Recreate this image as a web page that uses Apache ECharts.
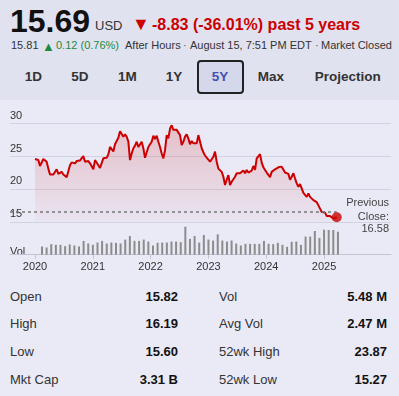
<!DOCTYPE html>
<html>
<head>
<meta charset="utf-8">
<script src="https://cdn.jsdelivr.net/npm/echarts@6/dist/echarts.min.js"></script>
<style>
  html, body { margin:0; padding:0; width:399px; height:396px; overflow:hidden; background:#eaeaf6; font-family:"Liberation Sans", Arial, sans-serif; }
  #hdr { position:absolute; left:0; top:0; width:399px; height:100px; background:#e1e2f0; }
  .t { position:absolute; white-space:nowrap; line-height:1; }
  .btn { position:absolute; width:60px; text-align:center; font-weight:bold; font-size:13.5px; line-height:20px; color:#333; top:66.5px; }
  #box5y { position:absolute; left:196.5px; top:60px; width:47px; height:33.5px; box-sizing:border-box; border:2px solid #222; border-radius:4px; background:#d4d8ea; }
  .lbl { position:absolute; font-size:13px; line-height:20px; color:#333; white-space:nowrap; }
  .val { position:absolute; font-size:13px; line-height:20px; color:#111; font-weight:bold; text-align:right; width:90px; white-space:nowrap; }
  #chart { position:absolute; left:0; top:100px; width:399px; height:180px; }
</style>
</head>
<body>
<div id="hdr"></div>
<div class="t" style="left:10px; top:4.6px; font-size:32px; font-weight:bold; color:#111;">15.69</div>
<div class="t" style="left:95px; top:18.5px; font-size:13px; color:#333;">USD</div>
<div class="t" style="left:132px; top:15px; font-size:18px; color:#cc0000;">▼</div>
<div class="t" style="left:152px; top:16.5px; font-size:16px; font-weight:bold; color:#cc0000;">-8.83 (-36.01%) past 5 years</div>

<div class="t" style="left:11px; top:40.2px; font-size:11px; color:#333;">15.81</div>
<div class="t" style="left:42px; top:39.5px; font-size:13px; color:#1e8a3c;">▲</div>
<div class="t" style="left:56px; top:40.2px; font-size:11px; color:#1e8a3c;">0.12 (0.76%)</div>
<div class="t" style="left:125px; top:40.2px; font-size:11px; color:#333;">After Hours</div>
<div class="t" style="left:183px; top:40.2px; font-size:11px; color:#555;">·</div>
<div class="t" style="left:190px; top:40.2px; font-size:11px; color:#333;">August 15, 7:51 PM EDT</div>
<div class="t" style="left:315px; top:40.2px; font-size:11px; color:#555;">·</div>
<div class="t" style="left:321px; top:40.2px; font-size:11px; color:#333;">Market Closed</div>

<div id="box5y"></div>
<div class="btn" style="left:3.5px;">1D</div>
<div class="btn" style="left:50px;">5D</div>
<div class="btn" style="left:97.3px;">1M</div>
<div class="btn" style="left:144px;">1Y</div>
<div class="btn" style="left:190px; color:#4352b0;">5Y</div>
<div class="btn" style="left:240.8px;">Max</div>
<div class="btn" style="left:314.8px;">Projection</div>

<div id="chart"></div>

<div class="lbl" style="left:10px; top:286.8px;">Open</div>
<div class="val" style="left:88px; top:286.8px;">15.82</div>
<div class="lbl" style="left:219px; top:286.8px;">Vol</div>
<div class="val" style="left:297px; top:286.8px;">5.48 M</div>

<div class="lbl" style="left:10px; top:314.4px;">High</div>
<div class="val" style="left:88px; top:314.4px;">16.19</div>
<div class="lbl" style="left:219px; top:314.4px;">Avg Vol</div>
<div class="val" style="left:297px; top:314.4px;">2.47 M</div>

<div class="lbl" style="left:10px; top:342.4px;">Low</div>
<div class="val" style="left:88px; top:342.4px;">15.60</div>
<div class="lbl" style="left:219px; top:342.4px;">52wk High</div>
<div class="val" style="left:297px; top:342.4px;">23.87</div>

<div class="lbl" style="left:10px; top:370.4px;">Mkt Cap</div>
<div class="val" style="left:88px; top:370.4px;">3.31 B</div>
<div class="lbl" style="left:219px; top:370.4px;">52wk Low</div>
<div class="val" style="left:297px; top:370.4px;">15.27</div>

<script>
// ---- data ----
const YEAR_TICKS = [2020, 2021, 2022, 2023, 2024, 2025];
const PRICE_TICKS = [15, 20, 25, 30];
const PREV_CLOSE = 16.58;

// price samples (evenly spaced in time, ~10.5 days apart, starting at start of 2020)
const PRICE_START = 2020.0;
const PRICE_STEP = 0.02884;
const PRICES = [
  24.56,24.67,24.4,23.5,23.75,24.56,24.76,24.15,23.1,22.2,
  22.1,22.2,22.5,23.0,22.3,22.1,22.6,22.2,22.4,21.8,
  22.7,23.6,24.05,24.15,23.9,24.25,24.15,24.35,24.05,25.0,
  24.15,24.15,24.25,23.9,23.6,23.0,24.4,24.15,23.6,23.2,
  23.4,24.67,24.9,24.76,25.27,26.4,26.2,25.7,26.8,27.1,
  27.8,28.8,28.5,27.96,28.3,27.96,27.2,24.4,25.4,26.2,
  26.6,27.2,26.4,
  26.4,27.2,26.2,24.76,24.67,26.4,26.8,27.2,28.1,27.6,
  28.1,27.2,26.4,25.4,24.67,25.9,28.2,27.7,29.2,29.7,
  29.0,29.1,29.0,29.1,28.2,26.7,27.2,27.96,28.3,27.7,
  26.8,27.3,26.95,27.2,26.95,28.2,28.5,26.2,25.6,25.1,
  24.76,24.67,24.15,24.4,24.9,25.7,24.15,23.1,23.0,22.6,
  21.86,20.6,21.4,22.1,20.6,21.1,21.4,21.86,22.4,22.6,
  22.4,
  22.27,22.8,22.4,22.9,22.5,22.6,22.8,23.5,22.9,24.67,
  24.8,25.3,24.0,23.3,22.9,22.5,22.3,21.8,22.6,22.8,
  23.0,23.1,23.3,23.4,23.4,23.1,22.5,22.6,22.3,21.4,
  21.86,22.4,21.6,20.85,20.33,20.75,20.1,19.4,19.57,18.8,
  19.3,18.8,18.9,18.3,18.56,18.0,17.5,17.0,16.5,16.7,
  16.4,15.87,15.78,15.87,15.78,15.5,15.67,15.69
];

// monthly volume bars (relative units)
const VOL_START = 2020.121;
const VOL_STEP = 0.08;
const VOLUMES = [
  25,22,32,30,30,26,31,28,25,42,34,30,37,42,34,37,36,34,46,57,42,42,46,40,28,36,37,37,40,40,38,85,
  48,57,37,60,46,43,62,43,40,43,34,28,33,33,33,33,42,33,32,36,30,24,39,40,30,55,55,72,51,76,75,75,70
];

// ---- chart ----
const FONT = '"Liberation Sans", Arial, sans-serif';
const X_MIN = 2019.5675, X_MAX = 2026.159;
const priceData = PRICES.map((v, i) => [PRICE_START + i * PRICE_STEP, v]);
const volData = VOLUMES.map((v, i) => [VOL_START + i * VOL_STEP, v]);
const last = priceData[priceData.length - 1];

const chart = echarts.init(document.getElementById('chart'), null, { renderer: 'canvas' });
chart.setOption({
  animation: false,
  textStyle: { fontFamily: FONT },
  grid: [
    { left: 10, right: 8, top: 23.3, height: 98.5 },
    { left: 10, right: 8, top: 121.8, height: 32.9 }
  ],
  xAxis: [
    { type: 'value', gridIndex: 0, min: X_MIN, max: X_MAX, show: false, splitLine: { show: false } },
    { type: 'value', gridIndex: 1, min: X_MIN, max: X_MAX,
      axisLine: { show: true, lineStyle: { color: '#c3c4d2', width: 1 } },
      axisTick: { show: true, length: 4, lineStyle: { color: '#c3c4d2' }, customValues: YEAR_TICKS },
      axisLabel: { customValues: YEAR_TICKS, formatter: v => String(Math.round(v)), color: '#333', fontSize: 11, margin: 7, fontFamily: FONT },
      splitLine: { show: false } }
  ],
  yAxis: [
    { type: 'value', gridIndex: 0, min: 15, max: 30, interval: 5,
      axisLine: { show: false }, axisTick: { show: false },
      axisLabel: { inside: true, margin: 0, align: 'left', verticalAlign: 'bottom', padding: [0, 0, 2, 0], color: '#333', fontSize: 11, fontFamily: FONT,
        formatter: v => PRICE_TICKS.indexOf(v) >= 0 ? String(v) : '' },
      splitLine: { show: true, lineStyle: { color: '#d2d3e2', width: 1 } } },
    { type: 'value', gridIndex: 1, min: 0, max: 100, show: false, splitLine: { show: false } }
  ],
  series: [
    { type: 'line', xAxisIndex: 0, yAxisIndex: 0, data: priceData, showSymbol: false, z: 3,
      lineStyle: { color: '#cc0000', width: 2 },
      areaStyle: { origin: 'start', color: new echarts.graphic.LinearGradient(0, 0, 0, 1, [
        { offset: 0, color: 'rgba(204,0,0,0.26)' },
        { offset: 1, color: 'rgba(204,0,0,0.03)' }
      ]) },
      markLine: { silent: true, symbol: 'none', label: { show: false },
        lineStyle: { color: '#777', type: [3, 3], width: 1.5 },
        data: [[{ coord: [X_MIN, PREV_CLOSE] }, { coord: [last[0], PREV_CLOSE] }]] } },
    { type: 'scatter', xAxisIndex: 0, yAxisIndex: 0, data: [last], symbolSize: 10, z: 5,
      itemStyle: { color: '#cc0000' } },
    { type: 'bar', xAxisIndex: 1, yAxisIndex: 1, data: volData, barWidth: 2,
      itemStyle: { color: '#8c8c8c' } }
  ],
  graphic: [
    { type: 'text', x: 10, y: 151.5, style: { text: 'Vol', fill: '#333', font: '11px ' + FONT, verticalAlign: 'middle' } },
    { type: 'text', x: 389, y: 103.3, style: { text: 'Previous', fill: '#444', font: '11px ' + FONT, align: 'right', verticalAlign: 'middle' } },
    { type: 'text', x: 389, y: 116.5, style: { text: 'Close:', fill: '#444', font: '11px ' + FONT, align: 'right', verticalAlign: 'middle' } },
    { type: 'text', x: 389, y: 129, style: { text: String(PREV_CLOSE), fill: '#444', font: '11px ' + FONT, align: 'right', verticalAlign: 'middle' } }
  ]
});
</script>
</body>
</html>
